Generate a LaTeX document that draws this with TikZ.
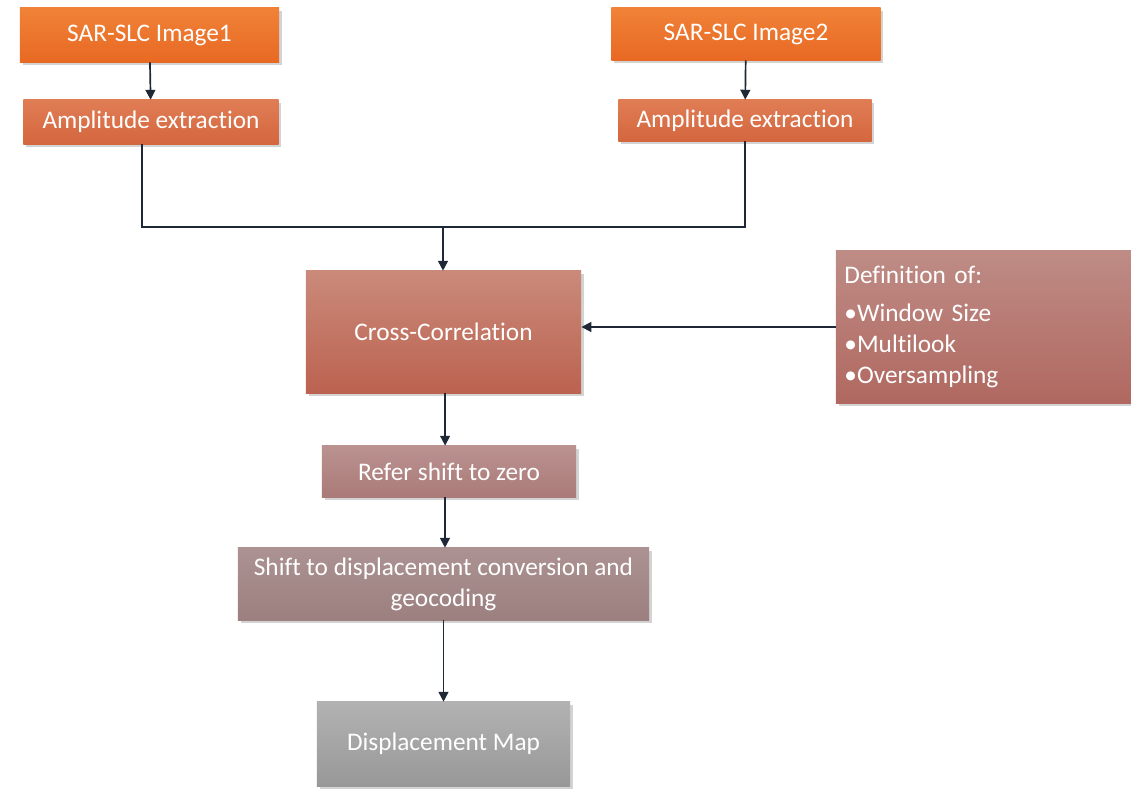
\documentclass[tikz,border=0pt]{standalone}
\usepackage{fontspec}
\setmainfont{Carlito}[Ligatures={NoCommon, NoContextual}]
\definecolor{sarorange}{RGB}{240, 130, 55}
\definecolor{sarorangedk}{RGB}{232, 105, 35}
\definecolor{amptop}{RGB}{224, 125, 85}
\definecolor{ampbot}{RGB}{212, 102, 62}
\definecolor{cctop}{RGB}{202, 138, 122}
\definecolor{ccbot}{RGB}{188, 98, 80}
\definecolor{deftop}{RGB}{190, 140, 134}
\definecolor{defbot}{RGB}{176, 104, 96}
\definecolor{reftop}{RGB}{186, 146, 144}
\definecolor{refbot}{RGB}{170, 122, 120}
\definecolor{shtop}{RGB}{172, 146, 146}
\definecolor{shbot}{RGB}{156, 128, 128}
\definecolor{maptop}{RGB}{178, 178, 178}
\definecolor{mapbot}{RGB}{152, 152, 152}
\definecolor{linkdark}{RGB}{30, 40, 55}
\usetikzlibrary{arrows.meta, positioning, calc, shadows}

\begin{document}
\begin{tikzpicture}[x=0.025cm, y=-0.025cm,
    stepbox/.style={shading=axis, shading angle=0, text=white, inner sep=4pt,
      font=\fontsize{18}{22}\selectfont, align=center,
      drop shadow={shadow xshift=2pt, shadow yshift=-2pt, opacity=0.35}},
    link/.style={linkdark, line width=1.2pt},
    arrowlink/.style={link, -{Triangle[length=7pt, width=7pt]}}]
  \useasboundingbox (0,0) rectangle (1131,794);

  % Inputs
  \node[stepbox, top color=sarorange, bottom color=sarorangedk, minimum width=6.48cm, minimum height=1.35cm] (img1) at (149.5, 35) {SAR-SLC Image1};
  \node[stepbox, top color=sarorange, bottom color=sarorangedk, minimum width=6.73cm, minimum height=1.3cm] (img2) at (746, 34) {SAR-SLC Image2};

  \node[stepbox, top color=amptop, bottom color=ampbot, minimum width=6.38cm, minimum height=1.1cm] (amp1) at (151, 122) {Amplitude extraction};
  \node[stepbox, top color=amptop, bottom color=ampbot, minimum width=6.33cm, minimum height=1.03cm] (amp2) at (745, 120.5) {Amplitude extraction};

  % Processing chain
  \node[stepbox, top color=cctop, bottom color=ccbot, minimum width=6.88cm, minimum height=3.05cm] (cc) at (443.5, 332) {Cross-Correlation};
  \node[stepbox, top color=deftop, bottom color=defbot, minimum width=7.38cm, minimum height=3.8cm, align=left, text width=6.95cm] (def) at (983.5, 327)
    {Definition of:\\[5pt] •Window Size\\ •Multilook\\ •Oversampling};
  \node[stepbox, top color=reftop, bottom color=refbot, minimum width=6.35cm, minimum height=1.28cm] (refer) at (449, 471.5) {Refer shift to zero};
  \node[stepbox, top color=shtop, bottom color=shbot, minimum width=10.28cm, minimum height=1.8cm] (shift) at (443.5, 584)
    {Shift to displacement conversion and\\ geocoding};
  \node[stepbox, top color=maptop, bottom color=mapbot, minimum width=6.33cm, minimum height=2.1cm] (dmap) at (443.5, 744) {Displacement Map};

  % Connectors
  \coordinate (join) at (443, 227);
  \draw[arrowlink] (img1) -- (amp1);
  \draw[arrowlink] (img2) -- (amp2);
  \draw[link] ([xshift=-0.22cm]amp1.south) |- (join);
  \draw[link] (amp2.south) |- (join);
  \draw[arrowlink] (join) -- (join |- cc.north);
  \draw[arrowlink] (def.west) -- (def.west -| cc.east);
  \draw[arrowlink] ([xshift=0.04cm]cc.south) -- ([xshift=0.04cm]cc.south |- refer.north);
  \draw[arrowlink] ([xshift=-0.1cm]refer.south) -- ([xshift=-0.1cm]refer.south |- shift.north);
  \draw[arrowlink] (shift) -- (dmap);
\end{tikzpicture}
\end{document}
